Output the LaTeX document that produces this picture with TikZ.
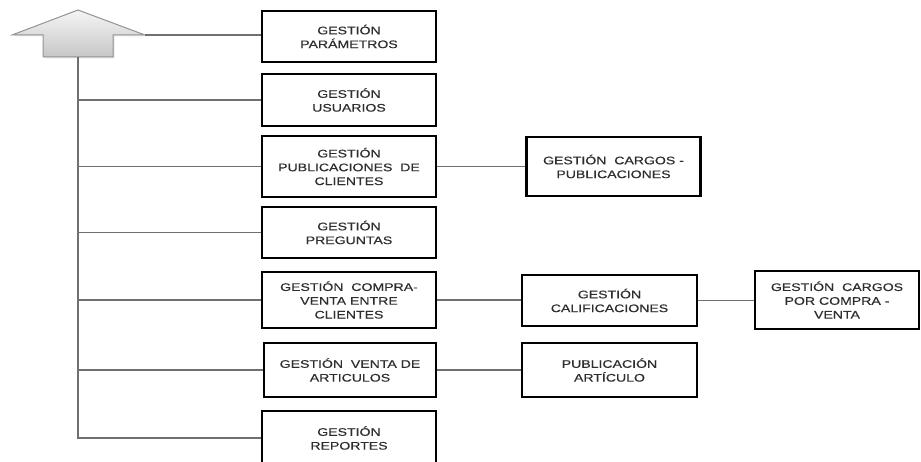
\documentclass[tikz,border=0pt]{standalone}
\usepackage{fontspec}
\newfontfamily\boxfont[FakeStretch=1.28,FakeBold=0.4]{Liberation Sans}
\usetikzlibrary{shadows}
\definecolor{linkgray}{HTML}{707070}
\definecolor{txtgray}{HTML}{2E2E2E}
\tikzset{
  x=1pt, y=-1pt,
  modbox/.style={draw=black, line width=2.5pt, fill=white, rectangle,
    minimum width=174pt, inner sep=2pt, align=center, text=txtgray,
    font=\boxfont\fontsize{11}{13.8}\selectfont},
  link/.style={draw=linkgray, line width=1.4pt},
  rootarrow/.style={draw=gray!85, line width=1pt, top color=gray!8, bottom color=gray!45,
    drop shadow={shadow xshift=1.5pt, shadow yshift=-1.5pt, fill=gray!40}}
}
\begin{document}
\begin{tikzpicture}
\useasboundingbox (0,0) rectangle (921,462);

% root arrow
\path[rootarrow] (78,10) -- (145,35) -- (113,35) -- (113,57) -- (43,57) -- (43,35) -- (12,35) -- cycle;
\coordinate (wing) at (145,35);
\coordinate (stem) at (78,57);

% first level modules
\node[modbox, minimum height=51pt] (par) at (349,36.5) {GESTIÓN\\PARÁMETROS};
\node[modbox, minimum height=52pt] (usu) at (349,100) {GESTIÓN\\USUARIOS};
\node[modbox, minimum height=61pt] (pub) at (349,166.5) {GESTIÓN\\PUBLICACIONES\ \ DE\\CLIENTES};
\node[modbox, minimum height=51pt] (pre) at (349,232.5) {GESTIÓN\\PREGUNTAS};
\node[modbox, minimum height=56pt] (cv) at (349,300) {GESTIÓN\ \ COMPRA-\\VENTA ENTRE\\CLIENTES};
\node[modbox, minimum height=54pt, minimum width=172pt] (ven) at (350,370) {GESTIÓN\ \ VENTA DE\\ARTICULOS};
\node[modbox, minimum height=54pt] (rep) at (349,438) {GESTIÓN\\REPORTES};

% second level modules
\node[modbox, minimum height=59pt] (carp) at (613.5,166.5) {GESTIÓN\ \ CARGOS -\\PUBLICACIONES};
\node[modbox, minimum height=51pt, minimum width=175pt] (cal) at (609.5,300.5) {GESTIÓN\\CALIFICACIONES};
\node[modbox, minimum height=54pt, minimum width=175pt] (part) at (609.5,370) {PUBLICACIÓN\\ARTÍCULO};

% third level module
\node[modbox, minimum height=58pt, minimum width=164pt] (carcv) at (837,300) {GESTIÓN\ \ CARGOS\\POR COMPRA -\\VENTA};

% connectors
\draw[link] (wing) -- (wing -| par.west);
\draw[link] (stem) |- (rep.west);
\foreach \n in {usu,pub,pre,cv,ven}
  \draw[link] (stem |- \n.west) -- (\n.west);
\draw[link] (pub.east) -- (pub.east -| carp.west);
\draw[link] (cv.east) -- (cv.east -| cal.west);
\draw[link] (cal.east) -- (cal.east -| carcv.west);
\draw[link] (ven.east) -- (ven.east -| part.west);
\end{tikzpicture}
\end{document}
